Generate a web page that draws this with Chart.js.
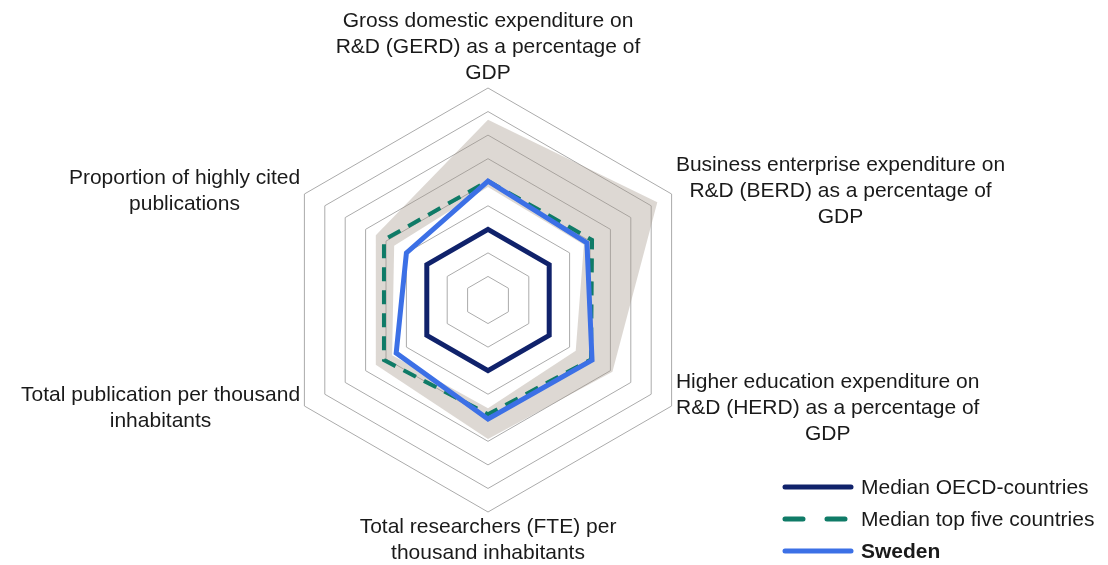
<!DOCTYPE html>
<html>
<head>
<meta charset="utf-8">
<script src="https://cdn.jsdelivr.net/npm/chart.js@4/dist/chart.umd.min.js"></script>
<style>
    html, body { margin: 0; padding: 0; background: #fff; }
    #wrap { position: relative; width: 1108px; height: 565px; }
    #legend {
        position: absolute; left: 782px; top: 471px;
        font-family: "Liberation Sans", Arial, sans-serif; font-size: 21px; color: #1a1a1a;
    }
    .row { display: flex; align-items: center; height: 32px; }
    .row svg { margin-right: 7px; }
</style>
</head>
<body>
<div id="wrap">
    <canvas id="radarChart" width="1108" height="565"></canvas>
    <div id="legend">
        <div class="row">
            <svg width="72" height="10"><line x1="3" y1="5" x2="69" y2="5" stroke="#10226b" stroke-width="5" stroke-linecap="round"/></svg>
            <span>Median OECD-countries</span>
        </div>
        <div class="row">
            <svg width="72" height="10"><line x1="3" y1="5" x2="69" y2="5" stroke="#0f7b67" stroke-width="5" stroke-linecap="round" stroke-dasharray="18 24"/></svg>
            <span>Median top five countries</span>
        </div>
        <div class="row">
            <svg width="72" height="10"><line x1="3" y1="5" x2="69" y2="5" stroke="#3c70e6" stroke-width="5" stroke-linecap="round"/></svg>
            <span style="font-weight:bold">Sweden</span>
        </div>
    </div>
</div>
<script>
// axis labels (one array of lines per axis, clockwise from the top)
const categories = [
    ['Gross domestic expenditure on', 'R&D (GERD) as a percentage of', 'GDP'],
    ['Business enterprise expenditure on', 'R&D (BERD) as a percentage of', 'GDP'],
    ['Higher education expenditure on', 'R&D (HERD) as a percentage of', 'GDP'],
    ['Total researchers (FTE) per', 'thousand inhabitants'],
    ['Total publication per thousand', 'inhabitants'],
    ['Proportion of highly cited', 'publications']
];

// values (0..9)
const oecdMedian = [3, 3, 3, 3, 3, 3];
const topFiveMedian = [5.05, 5.1, 5.05, 4.85, 5.1, 5.1];
const sweden = [5.05, 4.85, 5.1, 5.05, 4.5, 4.0];
const topFiveMax = [7.65, 8.3, 6.1, 5.9, 5.5, 5.5];
const topFiveMin = [4.8, 4.7, 4.3, 4.6, 4.7, 4.6];

const colors = {
    oecd: '#10226b',
    topFive: '#0f7b67',
    sweden: '#3c70e6',
    range: 'rgba(165, 152, 140, 0.38)',
    grid: '#ababab',
    text: '#1a1a1a'
};

const labelFontSize = 21;
const labelLineHeight = 26;

// draws the axis titles as centred blocks next to each outer vertex
const axisLabelPlugin = {
    id: 'axisLabels',
    afterDraw(chart) {
        const scale = chart.scales.r;
        const ctx = chart.ctx;
        ctx.save();
        ctx.font = labelFontSize + 'px "Liberation Sans", Arial, sans-serif';
        ctx.fillStyle = colors.text;
        ctx.textAlign = 'center';
        ctx.textBaseline = 'middle';
        categories.forEach((lines, i) => {
            const deg = i * 60;
            const pad = (deg === 0 || deg === 180) ? 2 : 5;
            const p = scale.getPointPosition(i, scale.drawingArea + pad);
            const w = Math.max(...lines.map(l => ctx.measureText(l).width));
            const h = lines.length * labelLineHeight;
            let cx, top;
            if (deg === 0) { cx = p.x; top = p.y - h; }
            else if (deg === 180) { cx = p.x; top = p.y; }
            else if (deg < 180) { cx = p.x + w / 2; top = p.y - h / 2; }
            else { cx = p.x - w / 2; top = p.y - h / 2; }
            lines.forEach((line, k) => {
                ctx.fillText(line, cx, top + labelLineHeight * (k + 0.5));
            });
        });
        ctx.restore();
    }
};

new Chart(document.getElementById('radarChart').getContext('2d'), {
    type: 'radar',
    data: {
        labels: categories.map(c => c.join(' ')),
        datasets: [
            {
                label: 'Top five max',
                data: topFiveMax,
                borderWidth: 0,
                pointRadius: 0,
                backgroundColor: colors.range,
                fill: 1,
                order: 4
            },
            {
                label: 'Top five min',
                data: topFiveMin,
                borderWidth: 0,
                pointRadius: 0,
                fill: false,
                order: 5
            },
            {
                label: 'Median OECD-countries',
                data: oecdMedian,
                borderColor: colors.oecd,
                borderWidth: 5,
                pointRadius: 0,
                fill: false,
                order: 2
            },
            {
                label: 'Median top five countries',
                data: topFiveMedian,
                borderColor: colors.topFive,
                borderWidth: 4,
                borderDash: [14, 9],
                pointRadius: 0,
                fill: false,
                order: 1
            },
            {
                label: 'Sweden',
                data: sweden,
                borderColor: colors.sweden,
                borderWidth: 5,
                pointRadius: 0,
                fill: false,
                order: 0
            }
        ]
    },
    options: {
        responsive: false,
        animation: false,
        layout: {
            padding: { top: 88, bottom: 53, left: 276, right: 408 }
        },
        elements: { line: { tension: 0, borderJoinStyle: 'miter' } },
        plugins: {
            legend: { display: false },
            tooltip: { enabled: false }
        },
        scales: {
            r: {
                min: 0,
                max: 9,
                ticks: { stepSize: 1, display: false },
                grid: { circular: false, color: colors.grid, lineWidth: 1 },
                angleLines: { display: false },
                pointLabels: { display: false }
            }
        }
    },
    plugins: [axisLabelPlugin]
});
</script>
</body>
</html>
